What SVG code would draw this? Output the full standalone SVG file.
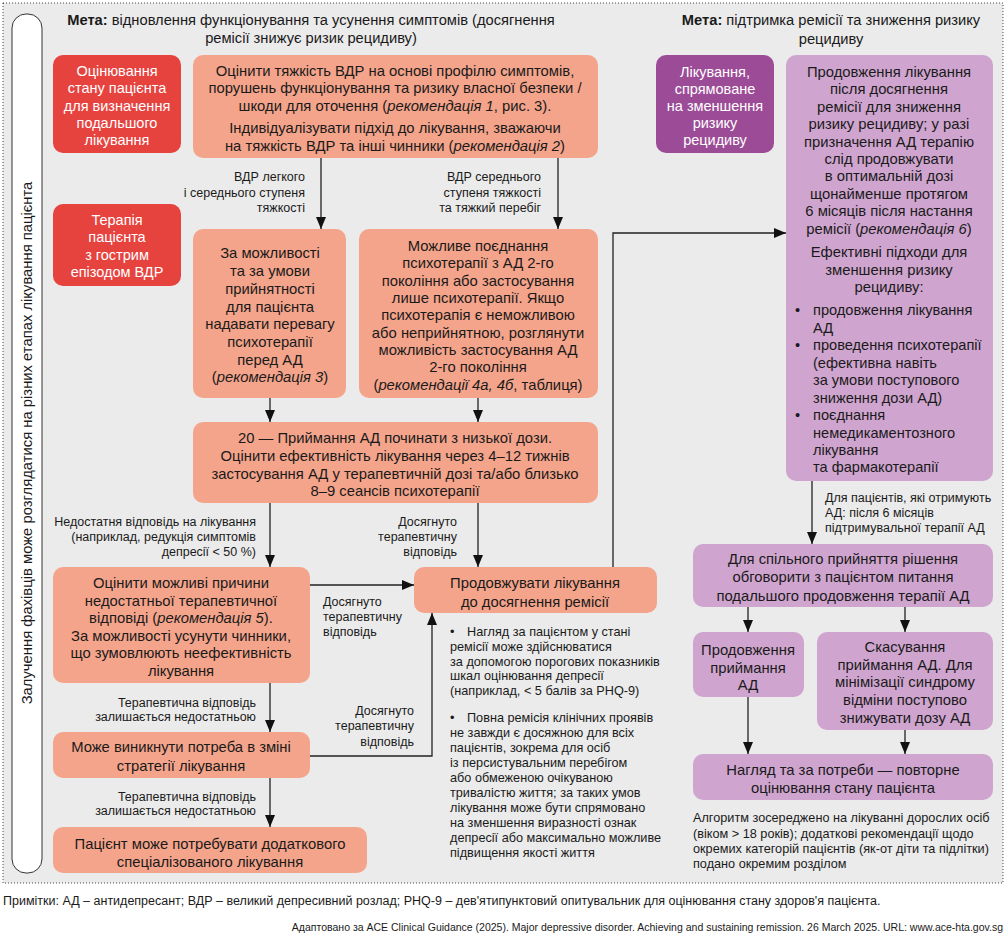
<svg xmlns="http://www.w3.org/2000/svg" width="1007" height="935" viewBox="0 0 1007 935">
<style>
text{font-family:"Liberation Sans",Arial,sans-serif;fill:#1a1a1a}
.bx{font-size:14.8px;text-anchor:middle}
.wt{font-size:14.5px;text-anchor:middle;fill:#fff}
.lb{font-size:12.5px}
.r{text-anchor:end}
.sm{font-size:12.7px}
.nt{font-size:12.7px}
.it{font-style:italic}
.sal{fill:#f4a48b}
.red{fill:#e6433f}
.dp{fill:#9c4c97}
.lp{fill:#cfa5cf}
.ln{fill:none;stroke:#222;stroke-width:1.3}
</style>
<defs>
<marker id="ah" markerUnits="userSpaceOnUse" markerWidth="12" markerHeight="10" refX="12" refY="5" orient="auto">
<path d="M0,0 L12,5 L0,10 z" fill="#111"/>
</marker>
</defs>
<rect x="0" y="0" width="1007" height="935" fill="#fff"/>
<rect x="3" y="3" width="1000" height="880" fill="#ebebeb" stroke="#444" stroke-width="1" stroke-dasharray="1,2"/>
<g id="side">
<rect x="12" y="14" width="30" height="859" rx="14" fill="#fff" stroke="#333" stroke-width="1"/>
<text transform="translate(32,443) rotate(-90)" style="font-size:14.8px;text-anchor:middle">Залучення фахівців може розглядатися на різних етапах лікування пацієнта</text>
</g>
<g id="titles">
<text x="311" y="25" style="font-size:14.7px;text-anchor:middle"><tspan font-weight="bold">Мета:</tspan> відновлення функціонування та усунення симптомів (досягнення</text>
<text x="311" y="43" style="font-size:14.7px;text-anchor:middle">ремісії знижує ризик рецидиву)</text>
<text x="831" y="25" style="font-size:14.7px;text-anchor:middle"><tspan font-weight="bold">Мета:</tspan> підтримка ремісії та зниження ризику</text>
<text x="831" y="44" style="font-size:14.7px;text-anchor:middle">рецидиву</text>
</g>
<g id="connectors">
<path class="ln" d="M321,158 V229" marker-end="url(#ah)"/>
<path class="ln" d="M558,158 V229" marker-end="url(#ah)"/>
<path class="ln" d="M270,398 V422" marker-end="url(#ah)"/>
<path class="ln" d="M478,398 V422" marker-end="url(#ah)"/>
<path class="ln" d="M270,503 V567" marker-end="url(#ah)"/>
<path class="ln" d="M478,503 V567" marker-end="url(#ah)"/>
<path class="ln" d="M310,585 H414" marker-end="url(#ah)"/>
<path class="ln" d="M613,567 V233 H786" marker-end="url(#ah)"/>
<path class="ln" d="M310,756 H432 V613" marker-end="url(#ah)"/>
<path class="ln" d="M270,683 V732" marker-end="url(#ah)"/>
<path class="ln" d="M270,778 V827" marker-end="url(#ah)"/>
<path class="ln" d="M812,481 V544" marker-end="url(#ah)"/>
<path class="ln" d="M748,607 V632" marker-end="url(#ah)"/>
<path class="ln" d="M905,607 V632" marker-end="url(#ah)"/>
<path class="ln" d="M748,697 V754" marker-end="url(#ah)"/>
<path class="ln" d="M905,730 V754" marker-end="url(#ah)"/>
<text class="lb r" x="305" y="181">ВДР легкого</text>
<text class="lb r" x="305" y="197">і середнього ступеня</text>
<text class="lb r" x="305" y="212">тяжкості</text>
<text class="lb r" x="541" y="181">ВДР середнього</text>
<text class="lb r" x="541" y="197">ступеня тяжкості</text>
<text class="lb r" x="541" y="212">та тяжкий перебіг</text>
<text class="lb r" x="256" y="526">Недостатня відповідь на лікування</text>
<text class="lb r" x="256" y="541">(наприклад, редукція симптомів</text>
<text class="lb r" x="256" y="556">депресії &lt; 50 %)</text>
<text class="lb r" x="457" y="526">Досягнуто</text>
<text class="lb r" x="457" y="541">терапевтичну</text>
<text class="lb r" x="457" y="556">відповідь</text>
<text class="lb" x="323" y="606">Досягнуто</text>
<text class="lb" x="323" y="621">терапевтичну</text>
<text class="lb" x="323" y="636">відповідь</text>
<text class="lb r" x="256" y="707">Терапевтична відповідь</text>
<text class="lb r" x="256" y="721">залишається недостатньою</text>
<text class="lb r" x="414" y="715">Досягнуто</text>
<text class="lb r" x="414" y="730">терапевтичну</text>
<text class="lb r" x="414" y="746">відповідь</text>
<text class="lb r" x="256" y="801">Терапевтична відповідь</text>
<text class="lb r" x="256" y="815">залишається недостатньою</text>
<text class="lb" x="825" y="502">Для пацієнтів, які отримують</text>
<text class="lb" x="825" y="517">АД: після 6 місяців</text>
<text class="lb" x="825" y="532">підтримувальної терапії АД</text>
</g>
<g id="n-assess">
<rect class="red" x="53" y="55" width="128" height="98" rx="10"/>
<text class="wt" x="117" y="76">Оцінювання</text>
<text class="wt" x="117" y="93">стану пацієнта</text>
<text class="wt" x="117" y="110.5">для визначення</text>
<text class="wt" x="117" y="128">подальшого</text>
<text class="wt" x="117" y="145">лікування</text>
</g>
<g id="n-acute">
<rect class="red" x="53" y="204" width="128" height="82" rx="10"/>
<text class="wt" x="117" y="225">Терапія</text>
<text class="wt" x="117" y="242">пацієнта</text>
<text class="wt" x="117" y="260">з гострим</text>
<text class="wt" x="117" y="277">епізодом ВДР</text>
</g>
<g id="n-severity">
<rect class="sal" x="193" y="55" width="405" height="103" rx="10"/>
<text class="bx" x="395" y="76">Оцінити тяжкість ВДР на основі профілю симптомів,</text>
<text class="bx" x="395" y="93">порушень функціонування та ризику власної безпеки /</text>
<text class="bx" x="395" y="111">шкоди для оточення (<tspan class="it">рекомендація 1</tspan>, рис. 3).</text>
<text class="bx" x="395" y="133">Індивідуалізувати підхід до лікування, зважаючи</text>
<text class="bx" x="395" y="151">на тяжкість ВДР та інші чинники (<tspan class="it">рекомендація 2</tspan>)</text>
</g>
<g id="n-mild">
<rect class="sal" x="193" y="229" width="153" height="169" rx="10"/>
<text class="bx" x="270" y="258">За можливості</text>
<text class="bx" x="270" y="276">та за умови</text>
<text class="bx" x="270" y="294">прийнятності</text>
<text class="bx" x="270" y="311.5">для пацієнта</text>
<text class="bx" x="270" y="329">надавати перевагу</text>
<text class="bx" x="270" y="347">психотерапії</text>
<text class="bx" x="270" y="364.5">перед АД</text>
<text class="bx" x="270" y="382">(<tspan class="it">рекомендація 3</tspan>)</text>
</g>
<g id="n-severe">
<rect class="sal" x="359" y="229" width="239" height="169" rx="10"/>
<text class="bx" x="478" y="251">Можливе поєднання</text>
<text class="bx" x="478" y="268.4">психотерапії з АД 2-го</text>
<text class="bx" x="478" y="285.7">покоління або застосування</text>
<text class="bx" x="478" y="303">лише психотерапії. Якщо</text>
<text class="bx" x="478" y="320.4">психотерапія є неможливою</text>
<text class="bx" x="478" y="337.7">або неприйнятною, розглянути</text>
<text class="bx" x="478" y="355">можливість застосування АД</text>
<text class="bx" x="478" y="372.4">2-го покоління</text>
<text class="bx" x="478" y="389.7">(<tspan class="it">рекомендації 4а, 4б</tspan>, таблиця)</text>
</g>
<g id="n-start">
<rect class="sal" x="193" y="422" width="405" height="81" rx="10"/>
<text class="bx" x="395" y="443">20 — Приймання АД починати з низької дози.</text>
<text class="bx" x="395" y="461">Оцінити ефективність лікування через 4–12 тижнів</text>
<text class="bx" x="395" y="478.5">застосування АД у терапевтичній дозі та/або близько</text>
<text class="bx" x="395" y="496">8–9 сеансів психотерапії</text>
</g>
<g id="n-causes">
<rect class="sal" x="53" y="567" width="257" height="116" rx="10"/>
<text class="bx" x="181" y="588">Оцінити можливі причини</text>
<text class="bx" x="181" y="605.5">недостатньої терапевтичної</text>
<text class="bx" x="181" y="623">відповіді (<tspan class="it">рекомендація 5</tspan>).</text>
<text class="bx" x="181" y="640.5">За можливості усунути чинники,</text>
<text class="bx" x="181" y="658">що зумовлюють неефективність</text>
<text class="bx" x="181" y="675.5">лікування</text>
</g>
<g id="n-continue">
<rect class="sal" x="414" y="567" width="243" height="46" rx="10"/>
<text class="bx" x="535" y="588">Продовжувати лікування</text>
<text class="bx" x="535" y="607">до досягнення ремісії</text>
</g>
<g id="n-notes">
<text class="sm" x="450" y="636">•<tspan x="467">Нагляд за пацієнтом у стані</tspan></text>
<text class="sm" x="450" y="650.8">ремісії може здійснюватися</text>
<text class="sm" x="450" y="665.6">за допомогою порогових показників</text>
<text class="sm" x="450" y="680.4">шкал оцінювання депресії</text>
<text class="sm" x="450" y="695.2">(наприклад, &lt; 5 балів за PHQ-9)</text>
<text class="sm" x="450" y="722">•<tspan x="467">Повна ремісія клінічних проявів</tspan></text>
<text class="sm" x="450" y="737">не завжди є досяжною для всіх</text>
<text class="sm" x="450" y="752">пацієнтів, зокрема для осіб</text>
<text class="sm" x="450" y="767">із персистувальним перебігом</text>
<text class="sm" x="450" y="782">або обмеженою очікуваною</text>
<text class="sm" x="450" y="797">тривалістю життя; за таких умов</text>
<text class="sm" x="450" y="812">лікування може бути спрямовано</text>
<text class="sm" x="450" y="827">на зменшення виразності ознак</text>
<text class="sm" x="450" y="842">депресії або максимально можливе</text>
<text class="sm" x="450" y="857">підвищення якості життя</text>
</g>
<g id="n-strategy">
<rect class="sal" x="53" y="732" width="257" height="46" rx="10"/>
<text class="bx" x="181" y="752">Може виникнути потреба в зміні</text>
<text class="bx" x="181" y="771">стратегії лікування</text>
</g>
<g id="n-special">
<rect class="sal" x="53" y="827" width="314" height="46" rx="10"/>
<text class="bx" x="210" y="849">Пацієнт може потребувати додаткового</text>
<text class="bx" x="210" y="867">спеціалізованого лікування</text>
</g>
<g id="n-relapse">
<rect class="dp" x="656" y="55" width="118" height="98" rx="10"/>
<text class="wt" x="715" y="77">Лікування,</text>
<text class="wt" x="715" y="94">спрямоване</text>
<text class="wt" x="715" y="111">на зменшення</text>
<text class="wt" x="715" y="128">ризику</text>
<text class="wt" x="715" y="145">рецидиву</text>
</g>
<g id="n-maintain">
<rect class="lp" x="786" y="55" width="207" height="426" rx="10"/>
<text class="bx" x="889" y="77">Продовження лікування</text>
<text class="bx" x="889" y="94.4">після досягнення</text>
<text class="bx" x="889" y="111.8">ремісії для зниження</text>
<text class="bx" x="889" y="129.2">ризику рецидиву; у разі</text>
<text class="bx" x="889" y="146.6">призначення АД терапію</text>
<text class="bx" x="889" y="164">слід продовжувати</text>
<text class="bx" x="889" y="181.4">в оптимальній дозі</text>
<text class="bx" x="889" y="198.8">щонайменше протягом</text>
<text class="bx" x="889" y="216.2">6 місяців після настання</text>
<text class="bx" x="889" y="233.6">ремісії (<tspan class="it">рекомендація 6</tspan>)</text>
<text class="bx" x="889" y="257">Ефективні підходи для</text>
<text class="bx" x="889" y="274.5">зменшення ризику</text>
<text class="bx" x="889" y="292">рецидиву:</text>
<g style="font-size:14.6px">
<text x="795" y="315">•</text><text x="813" y="315">продовження лікування</text>
<text x="813" y="332.5">АД</text>
<text x="795" y="350">•</text><text x="813" y="350">проведення психотерапії</text>
<text x="813" y="367.5">(ефективна навіть</text>
<text x="813" y="385">за умови поступового</text>
<text x="813" y="402.5">зниження дози АД)</text>
<text x="795" y="420">•</text><text x="813" y="420">поєднання</text>
<text x="813" y="437.5">немедикаментозного</text>
<text x="813" y="455">лікування</text>
<text x="813" y="472">та фармакотерапії</text>
</g>
</g>
<g id="n-discuss">
<rect class="lp" x="693" y="544" width="300" height="63" rx="10"/>
<text class="bx" x="843" y="564">Для спільного прийняття рішення</text>
<text class="bx" x="843" y="582">обговорити з пацієнтом питання</text>
<text class="bx" x="843" y="600.5">подальшого продовження терапії АД</text>
</g>
<g id="n-keep">
<rect class="lp" x="693" y="632" width="111" height="65" rx="10"/>
<text class="bx" x="748" y="655">Продовження</text>
<text class="bx" x="748" y="672.5">приймання</text>
<text class="bx" x="748" y="690">АД</text>
</g>
<g id="n-stop">
<rect class="lp" x="817" y="632" width="176" height="98" rx="10"/>
<text class="bx" x="905" y="652">Скасування</text>
<text class="bx" x="905" y="669.5">приймання АД. Для</text>
<text class="bx" x="905" y="687">мінімізації синдрому</text>
<text class="bx" x="905" y="705">відміни поступово</text>
<text class="bx" x="905" y="723">знижувати дозу АД</text>
</g>
<g id="n-monitor">
<rect class="lp" x="693" y="754" width="300" height="46" rx="10"/>
<text class="bx" x="843" y="775">Нагляд та за потреби — повторне</text>
<text class="bx" x="843" y="793">оцінювання стану пацієнта</text>
</g>
<g id="n-scope">
<text class="nt" x="693" y="822">Алгоритм зосереджено на лікуванні дорослих осіб</text>
<text class="nt" x="693" y="838">(віком &gt; 18 років); додаткові рекомендації щодо</text>
<text class="nt" x="693" y="853">окремих категорій пацієнтів (як-от діти та підлітки)</text>
<text class="nt" x="693" y="868">подано окремим розділом</text>
</g>
<g id="footer">
<text x="3" y="905" style="font-size:12.5px">Примітки: АД – антидепресант; ВДР – великий депресивний розлад; PHQ-9 – дев'ятипунктовий опитувальник для оцінювання стану здоров'я пацієнта.</text>
<text x="1003" y="931" style="font-size:10.5px;text-anchor:end">Адаптовано за ACE Clinical Guidance (2025). Major depressive disorder. Achieving and sustaining remission. 26 March 2025. URL: www.ace-hta.gov.sg</text>
</g>
</svg>
